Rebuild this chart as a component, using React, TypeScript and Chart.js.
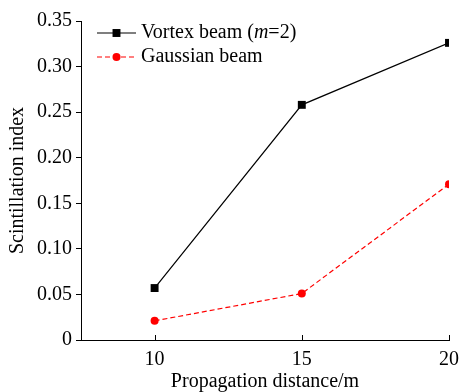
import React, { useEffect, useRef } from "react";
import { Chart, registerables } from "chart.js";

Chart.register(...registerables);

const distances = [10, 15, 20];
const vortexValues = [0.057, 0.258, 0.326];
const gaussianValues = [0.021, 0.051, 0.171];
const xTickValues = [10, 15, 20];
const vortexLabel = ["Vortex beam (", "m", "=2)"];
const gaussianLabel = "Gaussian beam";
const xTitle = "Propagation distance/m";
const yTitle = "Scintillation index";

const FONT = "'Liberation Serif', 'Times New Roman', serif";
const FS = 20;

const innerTicksPlugin = {
  id: "innerTicks",
  afterDraw(chart: any) {
    const ctx = chart.ctx;
    const xs = chart.scales.x;
    const bottom = chart.chartArea.bottom;
    ctx.save();
    ctx.strokeStyle = "#000";
    ctx.lineWidth = 1;
    xs.ticks.forEach((t: any) => {
      const px = Math.round(xs.getPixelForValue(t.value)) + 0.5;
      ctx.beginPath();
      ctx.moveTo(px, bottom);
      ctx.lineTo(px, bottom - 5);
      ctx.stroke();
    });
    ctx.restore();
  },
};

const legendPlugin = {
  id: "customLegend",
  afterDraw(chart: any) {
    const ctx = chart.ctx;
    const area = chart.chartArea;
    const x0 = area.left + 16;
    const x1 = x0 + 39;
    const textX = x1 + 5;
    const rows = [area.top + 12, area.top + 36];
    ctx.save();
    chart.data.datasets.forEach((ds: any, i: number) => {
      const y = rows[i];
      ctx.strokeStyle = ds.borderColor;
      ctx.lineWidth = ds.borderWidth;
      ctx.setLineDash(ds.borderDash || []);
      ctx.beginPath();
      ctx.moveTo(x0, y);
      ctx.lineTo(x1, y);
      ctx.stroke();
      ctx.setLineDash([]);
      ctx.fillStyle = ds.pointBackgroundColor;
      const cx = (x0 + x1) / 2;
      if (ds.pointStyle === "rect") {
        const s = ds.pointRadius * Math.SQRT1_2;
        ctx.fillRect(cx - s, y - s, 2 * s, 2 * s);
      } else {
        ctx.beginPath();
        ctx.arc(cx, y, ds.pointRadius, 0, Math.PI * 2);
        ctx.fill();
      }
      ctx.fillStyle = "#000";
      ctx.textBaseline = "middle";
      ctx.textAlign = "left";
      if (Array.isArray(ds.legendParts)) {
        let tx = textX;
        ds.legendParts.forEach((part: string, k: number) => {
          ctx.font = (k === 1 ? "italic " : "") + FS + "px " + FONT;
          ctx.fillText(part, tx, y);
          tx += ctx.measureText(part).width;
        });
      } else {
        ctx.font = FS + "px " + FONT;
        ctx.fillText(ds.label, textX, y);
      }
    });
    ctx.restore();
  },
};

export default function App() {
  const ref = useRef<HTMLCanvasElement | null>(null);
  useEffect(() => {
    if (!ref.current) return;
    const chart = new Chart(ref.current, {
      type: "line",
      data: {
        datasets: [
          {
            label: vortexLabel.join(""),
            legendParts: vortexLabel,
            data: distances.map((d, i) => ({ x: d, y: vortexValues[i] })),
            borderColor: "#000000",
            backgroundColor: "#000000",
            pointBackgroundColor: "#000000",
            pointBorderColor: "#000000",
            pointStyle: "rect",
            pointRadius: 5.6,
            pointBorderWidth: 0,
            borderWidth: 1.2,
            tension: 0,
          } as any,
          {
            label: gaussianLabel,
            data: distances.map((d, i) => ({ x: d, y: gaussianValues[i] })),
            borderColor: "#ff0000",
            backgroundColor: "#ff0000",
            pointBackgroundColor: "#ff0000",
            pointBorderColor: "#ff0000",
            pointStyle: "circle",
            pointRadius: 4,
            pointBorderWidth: 0,
            borderWidth: 1.2,
            borderDash: [5, 3],
            tension: 0,
          } as any,
        ],
      },
      options: {
        animation: false,
        responsive: false,
        maintainAspectRatio: false,
        layout: { padding: { top: 21, right: 11, left: 0, bottom: 0 } },
        plugins: {
          legend: { display: false },
          tooltip: { enabled: false },
        },
        scales: {
          x: {
            type: "linear",
            min: 7.5,
            max: 20,
            afterBuildTicks: (s: any) => {
              s.ticks = xTickValues.map((v) => ({ value: v }));
            },
            afterFit: (s: any) => {
              s.height = 52;
              s.paddingLeft = 0;
              s.paddingRight = 0;
            },
            grid: { display: true, drawOnChartArea: false, drawTicks: false, color: "#000" },
            border: { display: true, color: "#000", width: 1 },
            ticks: {
              color: "#000",
              font: { family: FONT, size: FS },
              padding: 8,
              maxRotation: 0,
            },
            title: {
              display: true,
              text: xTitle,
              color: "#000",
              font: { family: FONT, size: FS },
              padding: { top: 0, bottom: -2 },
            },
          },
          y: {
            type: "linear",
            min: 0,
            max: 0.35,
            afterFit: (s: any) => {
              s.width = 81;
              s.paddingTop = 0;
              s.paddingBottom = 0;
            },
            grid: { display: true, drawOnChartArea: false, drawTicks: true, tickLength: 5, color: "#000" },
            border: { display: true, color: "#000", width: 1 },
            ticks: {
              stepSize: 0.05,
              color: "#000",
              font: { family: FONT, size: FS },
              padding: 4,
              callback: (v: any) => (Math.abs(v) < 1e-9 ? "0" : Number(v).toFixed(2)),
            },
            title: {
              display: true,
              text: yTitle,
              color: "#000",
              font: { family: FONT, size: FS },
              padding: { top: 6, bottom: 4 },
            },
          },
        },
      },
      plugins: [innerTicksPlugin, legendPlugin],
    });
    return () => chart.destroy();
  }, []);
  return (
    <div style={{ position: "fixed", left: 0, top: 0, width: 460, height: 392, background: "#fff" }}>
      <canvas ref={ref} width={460} height={392} style={{ width: 460, height: 392 }} />
    </div>
  );
}
